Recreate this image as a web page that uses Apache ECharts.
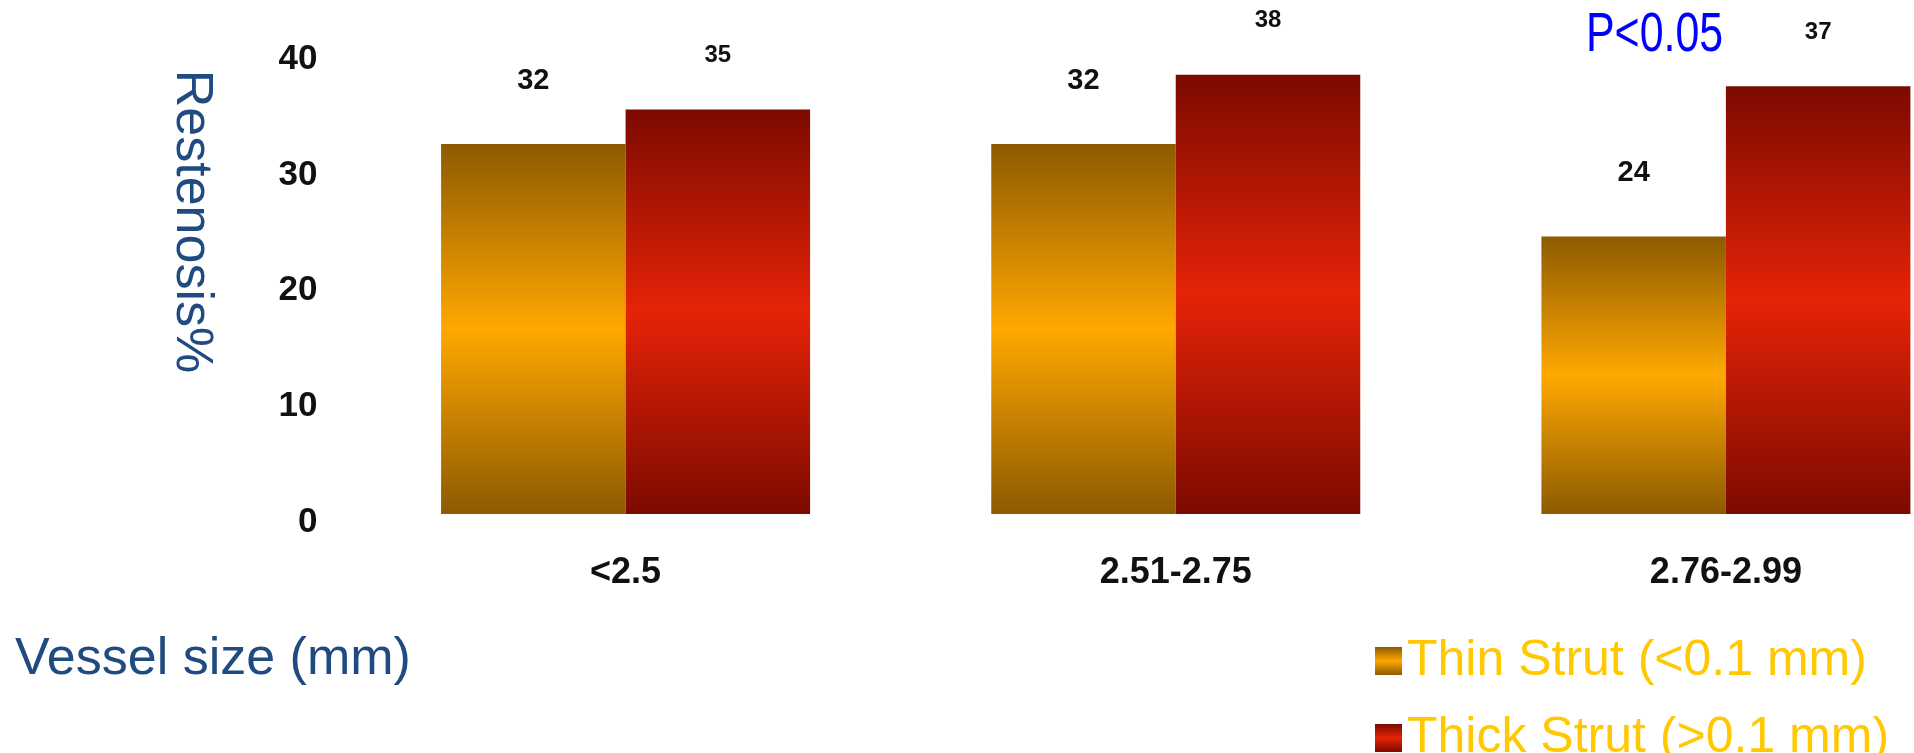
<!DOCTYPE html>
<html>
<head>
<meta charset="utf-8">
<script src="https://cdn.jsdelivr.net/npm/echarts@6/dist/echarts.min.js"></script>
<style>
  html, body { margin: 0; padding: 0; background: #ffffff; }
  #chart { width: 1914px; height: 753px; }
</style>
</head>
<body>
<div id="chart"></div>
<script>
// Vessel size groups and restenosis rates (%) by strut thickness
const categories = ['<2.5', '2.51-2.75', '2.76-2.99'];
const thinStrut = [32, 32, 24];
const thickStrut = [35, 38, 37];
const seriesNames = ['Thin Strut (<0.1 mm)', 'Thick Strut (>0.1 mm)'];
const yMin = 0, yMax = 40, yStep = 10;

const FONT = '"Liberation Sans", Arial, sans-serif';
const TITLE_BLUE = '#1F4B80';

// dark-bright-dark vertical shading for each bar
function shaded(edge, mid) {
  return new echarts.graphic.LinearGradient(0, 0, 0, 1, [
    { offset: 0, color: edge },
    { offset: 0.5, color: mid },
    { offset: 1, color: edge }
  ]);
}

// one legend block per series, stacked in the lower right
function legendRow(name, top) {
  return {
    orient: 'vertical',
    left: 1370,
    top: top,
    itemWidth: 27,
    itemHeight: 28,
    icon: 'rect',
    data: [name],
    textStyle: {
      fontFamily: FONT,
      fontSize: 50,
      lineHeight: 50,
      color: '#FFC800'
    }
  };
}

const chart = echarts.init(document.getElementById('chart'), null, { renderer: 'canvas' });

chart.setOption({
  backgroundColor: '#ffffff',
  animation: false,
  grid: {
    left: 350.5,
    top: 51.6,
    width: 1650.5,
    height: 462.4,
    containLabel: false,
    outerBoundsMode: 'none'
  },
  legend: [
    legendRow(seriesNames[0], 631),
    legendRow(seriesNames[1], 708)
  ],
  xAxis: {
    type: 'category',
    data: categories,
    axisLine: { show: false },
    axisTick: { show: false },
    axisLabel: {
      margin: 41,
      fontFamily: FONT,
      fontSize: 36,
      fontWeight: 'bold',
      color: '#111111'
    }
  },
  yAxis: {
    type: 'value',
    min: yMin,
    max: yMax,
    interval: yStep,
    splitLine: { show: false },
    axisLine: { show: false },
    axisTick: { show: false },
    axisLabel: {
      margin: 33,
      formatter: '{v|{value}}',
      rich: {
        v: {
          padding: [16, 0, 0, 0],
          fontFamily: FONT,
          fontSize: 35,
          fontWeight: 'bold',
          color: '#111111'
        }
      }
    }
  },
  series: [
    {
      name: seriesNames[0],
      type: 'bar',
      data: thinStrut,
      barWidth: 184.5,
      barGap: '0%',
      itemStyle: { color: shaded('#8C5A00', '#FFA800') },
      label: {
        show: true,
        position: 'top',
        distance: 49,
        fontFamily: FONT,
        fontSize: 29,
        fontWeight: 'bold',
        color: '#111111'
      }
    },
    {
      name: seriesNames[1],
      type: 'bar',
      data: thickStrut,
      barWidth: 184.5,
      barGap: '0%',
      itemStyle: { color: shaded('#7C0A00', '#E52307') },
      label: {
        show: true,
        position: 'top',
        distance: 42,
        fontFamily: FONT,
        fontSize: 24,
        fontWeight: 'bold',
        color: '#111111'
      }
    }
  ],
  graphic: [
    {
      type: 'text',
      x: 191,
      y: 221.5,
      rotation: -Math.PI / 2,
      style: {
        text: 'Restenosis%',
        x: 0, y: 0,
        textAlign: 'center',
        textVerticalAlign: 'middle',
        fontFamily: FONT,
        fontSize: 52,
        fill: TITLE_BLUE
      }
    },
    {
      type: 'text',
      x: 15,
      y: 660,
      style: {
        text: 'Vessel size (mm)',
        x: 0, y: 0,
        textAlign: 'left',
        textVerticalAlign: 'middle',
        fontFamily: FONT,
        fontSize: 52,
        fill: TITLE_BLUE
      }
    },
    {
      type: 'text',
      x: 1586,
      y: 36,
      scaleX: 0.78,
      style: {
        text: 'P<0.05',
        x: 0, y: 0,
        textAlign: 'left',
        textVerticalAlign: 'middle',
        fontFamily: FONT,
        fontSize: 55,
        fill: '#0000FF'
      }
    }
  ]
});
</script>
</body>
</html>
